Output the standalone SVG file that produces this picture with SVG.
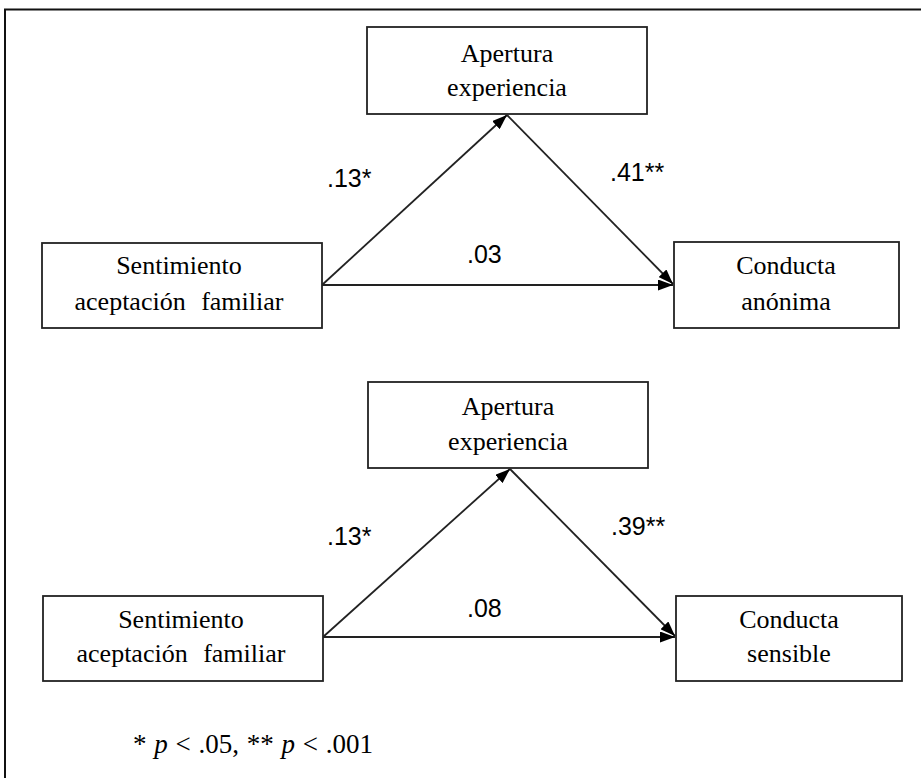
<svg xmlns="http://www.w3.org/2000/svg" width="921" height="778" viewBox="0 0 921 778">
<style>
.box{fill:#fff;stroke:#222;stroke-width:1.8}
.nt{font-family:"Liberation Serif","Times New Roman",serif;font-size:26px;fill:#000;text-anchor:middle}
.lb{font-family:"Liberation Sans",Arial,sans-serif;font-size:25px;fill:#000}
.fn{font-family:"Liberation Serif","Times New Roman",serif;font-size:27px;fill:#000}
.ln{stroke:#222;stroke-width:1.8;fill:none}
</style>
<defs>
<marker id="ah" viewBox="0 0 15 11" refX="15" refY="5.5" markerWidth="15" markerHeight="11" markerUnits="userSpaceOnUse" orient="auto">
<path d="M0,0 L15,5.5 L0,11 Z" fill="#000"/>
</marker>
</defs>
<rect width="921" height="778" fill="#fff"/>
<path d="M5,778 L5,9.5 L921,9.5" fill="none" stroke="#111" stroke-width="2"/>
<g id="connectors">
<line class="ln" x1="322" y1="285" x2="507" y2="115" marker-end="url(#ah)"/>
<line class="ln" x1="507" y1="115" x2="673" y2="284" marker-end="url(#ah)"/>
<line class="ln" x1="322" y1="285" x2="673" y2="285" marker-end="url(#ah)"/>
<line class="ln" x1="323" y1="637" x2="510" y2="469" marker-end="url(#ah)"/>
<line class="ln" x1="510" y1="469" x2="675" y2="636" marker-end="url(#ah)"/>
<line class="ln" x1="323" y1="637" x2="675" y2="637" marker-end="url(#ah)"/>
</g>
<g id="labels">
<text class="lb" x="327" y="187">.13*</text>
<text class="lb" x="610" y="181">.41**</text>
<text class="lb" x="467" y="263">.03</text>
<text class="lb" x="327" y="545">.13*</text>
<text class="lb" x="611" y="535">.39**</text>
<text class="lb" x="467" y="617">.08</text>
</g>
<g id="apertura1">
<rect class="box" x="367" y="27" width="280" height="87"/>
<text class="nt" x="507" y="62">Apertura</text>
<text class="nt" x="507" y="96">experiencia</text>
</g>
<g id="sentimiento1">
<rect class="box" x="42" y="243" width="280" height="85"/>
<text class="nt" x="179" y="274">Sentimiento</text>
<text class="nt" x="179" y="310" word-spacing="9">aceptación familiar</text>
</g>
<g id="conducta1">
<rect class="box" x="674" y="242" width="225" height="86"/>
<text class="nt" x="786" y="274">Conducta</text>
<text class="nt" x="786" y="310">anónima</text>
</g>
<g id="apertura2">
<rect class="box" x="368" y="382" width="280" height="86"/>
<text class="nt" x="508" y="415">Apertura</text>
<text class="nt" x="508" y="450">experiencia</text>
</g>
<g id="sentimiento2">
<rect class="box" x="43" y="596" width="280" height="85"/>
<text class="nt" x="181" y="628">Sentimiento</text>
<text class="nt" x="181" y="662" word-spacing="9">aceptación familiar</text>
</g>
<g id="conducta2">
<rect class="box" x="676" y="596" width="226" height="85"/>
<text class="nt" x="789" y="628">Conducta</text>
<text class="nt" x="789" y="662">sensible</text>
</g>
<text class="fn" x="133" y="753" word-spacing="1">* <tspan font-style="italic">p</tspan> &lt; .05, ** <tspan font-style="italic">p</tspan> &lt; .001</text>
</svg>
